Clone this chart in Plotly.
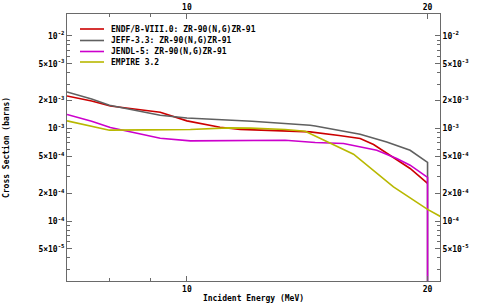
import plotly.graph_objects as go

# ---------------- data ----------------
series_names = [
    "ENDF/B-VIII.0: ZR-90(N,G)ZR-91",
    "JEFF-3.3: ZR-90(N,G)ZR-91",
    "JENDL-5: ZR-90(N,G)ZR-91",
    "EMPIRE 3.2",
]
series_colors = ["#cc0000", "#606060", "#cc00cc", "#b8b800"]

endf_e = [7.08, 7.6, 8.02, 8.83, 9.26, 10.0, 11.0, 11.66, 12.65, 14.26, 15.5, 16.47, 17.12, 18.13, 19.02, 20.0]
endf_s = [2.25e-3, 1.98e-3, 1.75e-3, 1.58e-3, 1.50e-3, 1.21e-3, 1.03e-3, 9.8e-4, 9.59e-4, 9.19e-4, 8.4e-4, 7.80e-4, 6.72e-4, 4.80e-4, 3.70e-4, 2.55e-4]

jeff_e = [7.08, 7.6, 8.0, 9.26, 10.0, 11.66, 12.06, 14.26, 14.47, 16.47, 17.78, 19.02, 20.0, 20.0]
jeff_s = [2.48e-3, 2.08e-3, 1.78e-3, 1.39e-3, 1.30e-3, 1.23e-3, 1.20e-3, 1.085e-3, 1.066e-3, 8.68e-4, 7.17e-4, 5.83e-4, 4.30e-4, 1e-8]

jendl_e = [7.08, 7.6, 8.02, 8.83, 9.26, 10.1, 11.66, 13.27, 14.47, 15.70, 17.28, 18.30, 19.02, 20.0, 20.0]
jendl_s = [1.42e-3, 1.20e-3, 1.025e-3, 8.47e-4, 7.85e-4, 7.35e-4, 7.35e-4, 7.48e-4, 7.06e-4, 6.89e-4, 5.83e-4, 4.75e-4, 4.02e-4, 2.96e-4, 1e-8]

empire_e = [7.08, 8.0, 8.91, 10.1, 11.27, 12.0, 13.27, 14.06, 16.16, 18.13, 20.0, 21.0]
empire_s = [1.21e-3, 9.6e-4, 9.66e-4, 9.75e-4, 1.015e-3, 1.01e-3, 9.75e-4, 9.35e-4, 5.28e-4, 2.34e-4, 1.34e-4, 1.06e-4]

x_tick_vals = [10, 20]
x_tick_text = ["10", "20"]
x_minor_vals = [8, 9]

y_tick_vals = [1e-2, 5e-3, 2e-3, 1e-3, 5e-4, 2e-4, 1e-4, 5e-5]
y_tick_text = ["10<sup>-2</sup>", "5×10<sup>-3</sup>", "2×10<sup>-3</sup>", "10<sup>-3</sup>",
               "5×10<sup>-4</sup>", "2×10<sup>-4</sup>", "10<sup>-4</sup>", "5×10<sup>-5</sup>"]
y_minor_vals = [3e-5, 4e-5, 6e-5, 7e-5, 8e-5, 9e-5,
                3e-4, 4e-4, 6e-4, 7e-4, 8e-4, 9e-4,
                3e-3, 4e-3, 6e-3, 7e-3, 8e-3, 9e-3]

x_range_log = [0.85, 1.3166]
y_range_log = [-4.647, -1.763]

# ---------------- figure ----------------
FONT = dict(family="DejaVu Sans Mono", size=8, color="black", weight="bold")
AXCOL = "#6a6a6a"

fig = go.Figure()
all_e = [endf_e, jeff_e, jendl_e, empire_e]
all_s = [endf_s, jeff_s, jendl_s, empire_s]
for name, e, s, c in zip(series_names, all_e, all_s, series_colors):
    fig.add_trace(go.Scatter(x=e, y=s, mode="lines", name=name,
                             line=dict(color=c, width=1.6), showlegend=False,
                             hoverinfo="skip"))

# invisible trace that carries the mirrored (top/right) axes
fig.add_trace(go.Scatter(x=[10], y=[1e-3], xaxis="x2", yaxis="y2", mode="markers",
                         marker=dict(opacity=0), showlegend=False, hoverinfo="skip"))

common_x = dict(type="log", range=x_range_log, tickmode="array", tickvals=x_tick_vals,
                ticktext=x_tick_text, ticks="inside", ticklen=5, tickcolor=AXCOL,
                minor=dict(tickvals=x_minor_vals, ticks="inside", ticklen=3, tickcolor=AXCOL),
                showgrid=False, zeroline=False, showline=True, linecolor=AXCOL, linewidth=1,
                tickfont=FONT, automargin=False)
common_y = dict(type="log", range=y_range_log, tickmode="array", tickvals=y_tick_vals,
                ticktext=y_tick_text, ticks="inside", ticklen=5, tickcolor=AXCOL,
                minor=dict(tickvals=y_minor_vals, ticks="inside", ticklen=3, tickcolor=AXCOL),
                showgrid=False, zeroline=False, showline=True, linecolor=AXCOL, linewidth=1,
                tickfont=FONT, automargin=False)

fig.update_layout(
    width=480, height=305,
    margin=dict(l=67, r=40, t=14, b=24),
    paper_bgcolor="white", plot_bgcolor="white",
    font=FONT,
    xaxis=dict(**common_x, title=dict(text="Incident Energy (MeV)", font=FONT, standoff=2)),
    yaxis=dict(**common_y, title=dict(text="Cross Section (barns)", font=FONT, standoff=27)),
    xaxis2=dict(**common_x, overlaying="x", side="top", anchor="y"),
    yaxis2=dict(**common_y, overlaying="y", side="right", anchor="x"),
    showlegend=False,
)

# legend drawn as line samples + labels inside the plot area (paper-domain coords)
leg_rows_px = [29, 40.5, 51.5, 62]
plot_l, plot_r, plot_t, plot_b = 67, 440, 14, 281
def px2x(px):
    return (px - plot_l) / (plot_r - plot_l)
def px2y(py):
    return (plot_b - py) / (plot_b - plot_t)

for name, c, ry in zip(series_names, series_colors, leg_rows_px):
    fig.add_shape(type="line", xref="x domain", yref="y domain",
                  x0=px2x(80), x1=px2x(104), y0=px2y(ry), y1=px2y(ry),
                  line=dict(color=c, width=1.6))
    fig.add_annotation(xref="x domain", yref="y domain", x=px2x(109), y=px2y(ry),
                       text=name, showarrow=False, xanchor="left", yanchor="middle",
                       font=FONT)

fig.write_html("out.html", config={"displayModeBar": False},
               post_script="document.body.style.margin='0';document.body.style.padding='0';")
